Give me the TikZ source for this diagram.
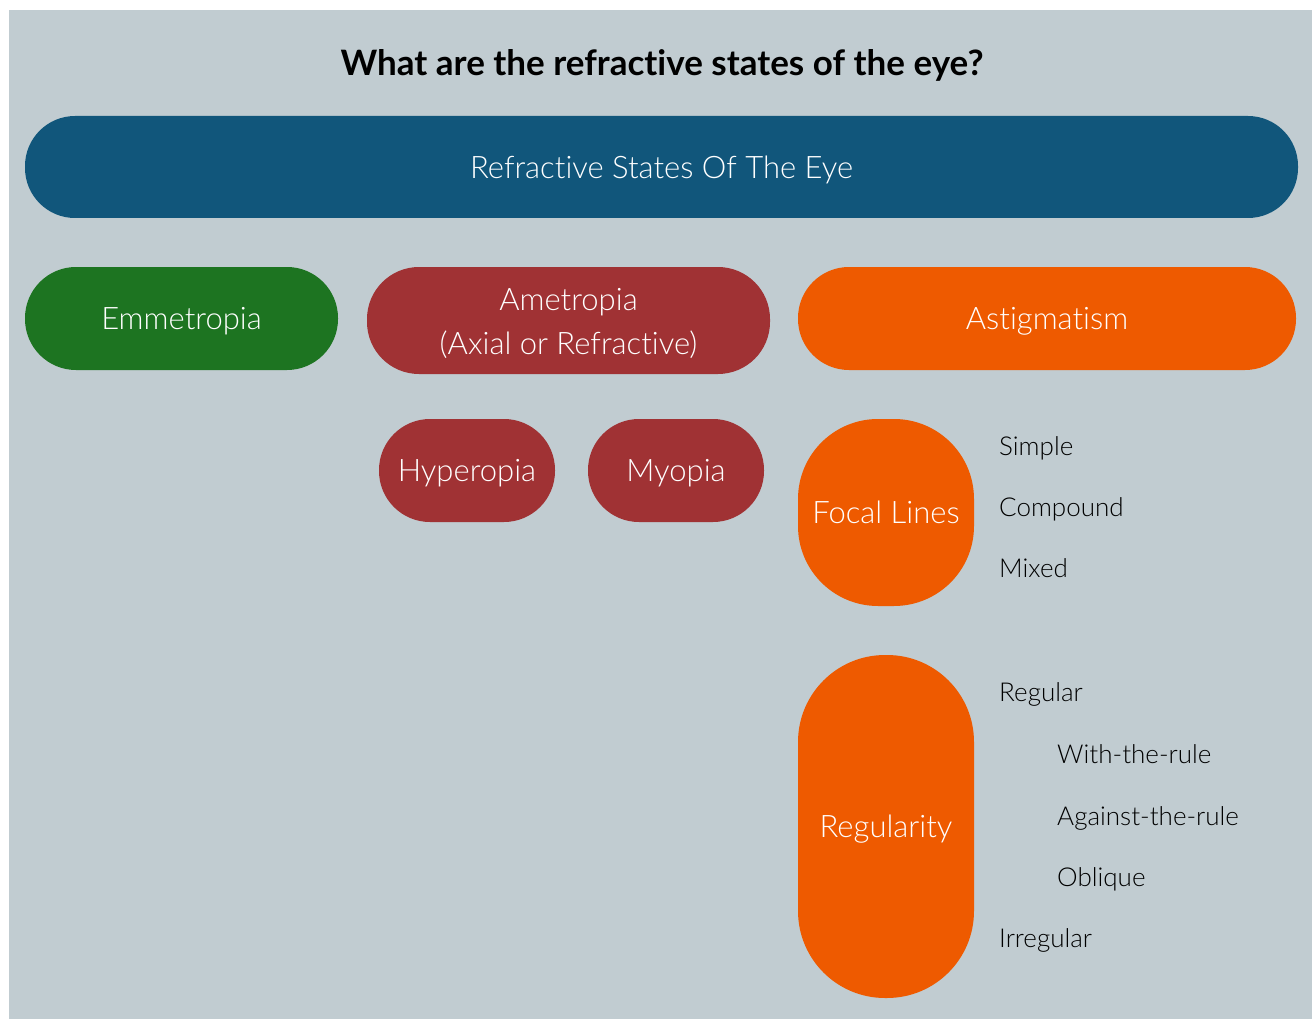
\documentclass[tikz,border=0pt]{standalone}
\usepackage{fontspec}
\setmainfont{Lato}[Ligatures=NoCommon]
\newfontfamily\pillfont{Lato Light}[Ligatures=NoCommon]
\usetikzlibrary{positioning}

\definecolor{bgpanel}{HTML}{C1CCD1}
\definecolor{eyeblue}{HTML}{11567B}
\definecolor{emmgreen}{HTML}{1D7421}
\definecolor{ametred}{HTML}{A03234}
\definecolor{astorange}{HTML}{EE5A00}

% lower a line of text without changing its box
\newcommand{\dropline}[1]{\raisebox{-3pt}[\height][\depth]{#1}}

\tikzset{
  pill/.style={rectangle,inner sep=0pt,text=white,align=center,
    text height=22.3pt,text depth=0pt,
    font=\pillfont\fontsize{31}{44}\selectfont},
  sublabel/.style={anchor=base west,inner sep=0pt,text=black,
    font=\pillfont\fontsize{26}{30}\selectfont},
}

\begin{document}
\begin{tikzpicture}[x=1pt,y=-1pt]
  \useasboundingbox (0,0) rectangle (1312,1019);
  \fill[bgpanel] (9,10) rectangle (1312,1019);

  \node[anchor=base,inner sep=0pt,font=\bfseries\fontsize{35}{40}\selectfont]
    (title) at (662,76) {What are the refractive states of the eye?};

  % top bar
  \node[pill,fill=eyeblue,rounded corners=50pt,minimum width=1273pt,
    minimum height=102pt] (eye) at (661.5,167) {Refractive States Of The Eye};

  % three main states
  \node[pill,fill=emmgreen,rounded corners=51pt,minimum width=313pt,
    minimum height=103pt] (emm) at (181.5,318.5) {Emmetropia};
  \node[pill,fill=ametred,rounded corners=52pt,minimum width=403pt,
    minimum height=107pt,text height=,text depth=] (amet) at (568.5,320.5)
    {\dropline{Ametropia}\\\dropline{(Axial or Refractive)}};
  \node[pill,fill=astorange,rounded corners=51pt,minimum width=498pt,
    minimum height=103pt] (astig) at (1047,318.5) {Astigmatism};

  % ametropia types
  \node[pill,fill=ametred,rounded corners=51pt,minimum width=176pt,
    minimum height=103pt] (hyper) at (467,470.5) {Hyperopia};
  \node[pill,fill=ametred,rounded corners=51pt,minimum width=176pt,
    minimum height=103pt] (myo) at (676,470.5) {Myopia};

  % astigmatism classes
  \node[pill,fill=astorange,rounded corners=80pt,minimum width=176pt,
    minimum height=187pt] (focal) at (886,512.5) {Focal Lines};
  \node[pill,fill=astorange,rounded corners=87pt,minimum width=176pt,
    minimum height=343pt] (regty) at (886,826.5) {Regularity};

  \node[sublabel] (simple) at (999,455.5) {Simple};
  \node[sublabel] (compound) at (999,516.5) {Compound};
  \node[sublabel] (mixed) at (999,577.5) {Mixed};

  \node[sublabel] (regular) at (999,701.5) {Regular};
  \node[sublabel] (withrule) at (1057,763.5) {With-the-rule};
  \node[sublabel] (againstrule) at (1057,825.5) {Against-the-rule};
  \node[sublabel] (oblique) at (1057,886.5) {Oblique};
  \node[sublabel] (irregular) at (999,947.5) {Irregular};
\end{tikzpicture}
\end{document}
